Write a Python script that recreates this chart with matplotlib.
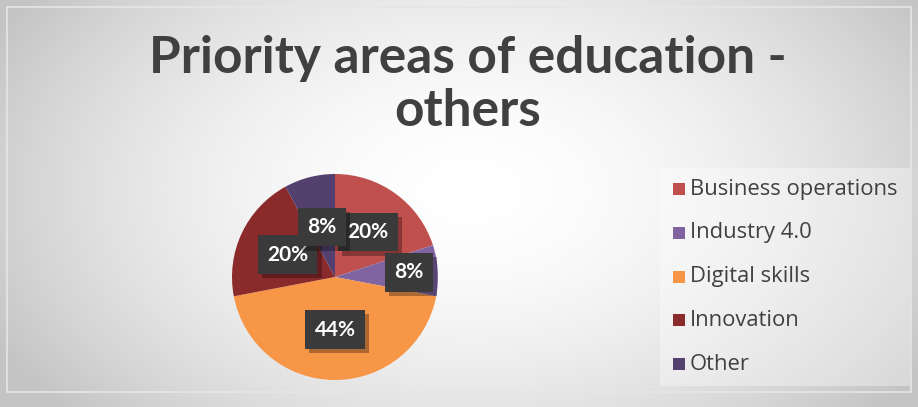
#!/usr/bin/env python3
"""
Camembert : domaines prioritaires de formation - autres
"""
import numpy as np
import matplotlib
matplotlib.use('Agg')
import matplotlib.pyplot as plt
from matplotlib.patches import Rectangle
import matplotlib.patheffects as pe

# Données
categories = ['Business operations', 'Industry 4.0', 'Digital skills', 'Innovation', 'Other']
values = [20, 8, 44, 20, 8]
labels_pct = ['20%', '8%', '44%', '20%', '8%']
colors = ['#C0504D', '#8064A2', '#F79646', '#8B2A2A', '#54406F']
label_dist = [0.54, 0.72, 0.51, 0.51, 0.50]

W, H = 918, 407
fig = plt.figure(figsize=(W / 100, H / 100), dpi=100)

# Fond en dégradé radial (blanc au centre, gris sur les bords)
bg = fig.add_axes([0, 0, 1, 1])
yy, xx = np.mgrid[0:H, 0:W]
d = np.sqrt(((xx - 470) / 520.0) ** 2 + ((yy - 190) / 330.0) ** 2)
g = np.clip(1.0 - 0.22 * d ** 1.8, 0.77, 1.0)
bg.imshow(np.dstack([g, g, g]), extent=[0, W, H, 0], aspect='auto')
bg.add_patch(Rectangle((7, 7), W - 14, H - 22, fill=False, ec='#e6e6e6', lw=1.2))
# Panneau de la légende
bg.add_patch(Rectangle((660, 168), 250, 218, fc='white', ec='none', alpha=0.35))
bg.set_xlim(0, W)
bg.set_ylim(H, 0)
bg.axis('off')

# Titre
fig.text(468 / W, 1 - 58 / H, 'Priority areas of education -', ha='center', va='center',
         fontsize=37, fontweight='bold', color='#404040', family='Lato')
fig.text(468 / W, 1 - 112 / H, 'others', ha='center', va='center',
         fontsize=37, fontweight='bold', color='#404040', family='Lato')

# Camembert
cx, cy, r = 335, 277, 103
ax = fig.add_axes([(cx - r) / W, (H - cy - r) / H, 2 * r / W, 2 * r / H])
wedges, _ = ax.pie(values, colors=colors, startangle=90, counterclock=False, radius=1,
                   wedgeprops=dict(linewidth=0))
ax.set_xlim(-1, 1)
ax.set_ylim(-1, 1)
ax.axis('off')

for w, lab, dist in zip(wedges, labels_pct, label_dist):
    ang = np.deg2rad((w.theta1 + w.theta2) / 2)
    x, y = dist * np.cos(ang), dist * np.sin(ang)
    t = ax.text(x, y, lab, ha='center', va='center', fontsize=15, fontweight='bold',
                color='white', family='Lato',
                bbox=dict(boxstyle='square,pad=0.45', fc='#3a3a3a', ec='none'))
    t.get_bbox_patch().set_path_effects([
        pe.SimplePatchShadow(offset=(3, -3), shadow_rgbFace='black', alpha=0.3),
        pe.Normal()])

# Légende
y0 = 189
for i, (cat, col) in enumerate(zip(categories, colors)):
    yp = y0 + i * 43.8
    bg.add_patch(Rectangle((673, yp - 6), 12, 12, fc=col, ec='none'))
    bg.text(690, yp, cat, ha='left', va='center', fontsize=15.8, color='#404040',
            family='Open Sans')

fig.savefig('out.png', dpi=100)
